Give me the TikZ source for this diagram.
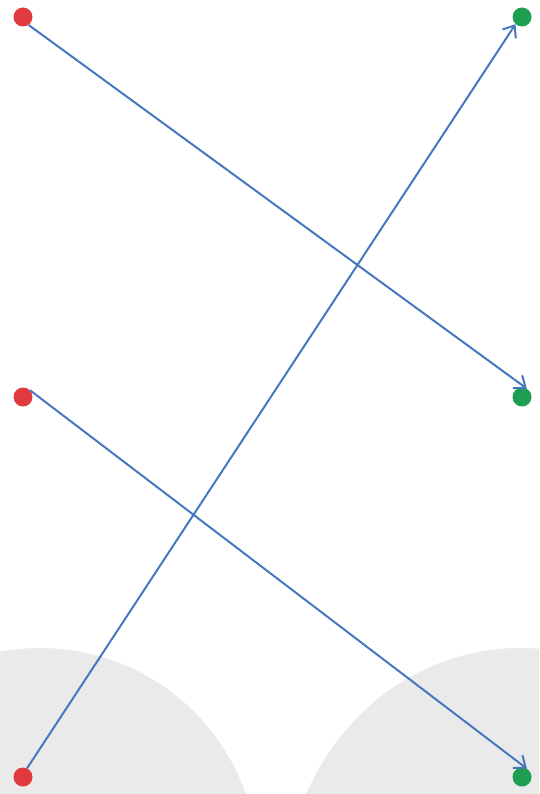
\documentclass[tikz,border=0pt]{standalone}
\usetikzlibrary{arrows.meta}
\definecolor{dotred}{HTML}{E03A3E}
\definecolor{dotgreen}{HTML}{1E9E50}
\definecolor{lineblue}{HTML}{4677BF}
\definecolor{bggrey}{HTML}{EAEAEA}
\begin{document}
\begin{tikzpicture}[x=1pt,y=-1pt,
  reddot/.style={circle,fill=dotred,minimum size=19pt,inner sep=0pt},
  greendot/.style={circle,fill=dotgreen,minimum size=19pt,inner sep=0pt},
  link/.style={draw=lineblue,line width=2pt,-{Straight Barb[length=10pt,width=16pt,line width=2pt]}}]
\useasboundingbox (0,0) rectangle (539,794);
\begin{scope}
  \clip (0,0) rectangle (539,794);
  \fill[bggrey] (40,866) circle (218);
  \fill[bggrey] (520,898) ellipse (235 and 250);
\end{scope}
\node[reddot] (r1) at (23,17) {};
\node[reddot] (r2) at (23,397) {};
\node[reddot] (r3) at (23,777) {};
\node[greendot] (g1) at (522,17) {};
\node[greendot] (g2) at (522,397) {};
\node[greendot] (g3) at (522,777) {};
\draw[link] (r1.-55) -- (g2.60);
\draw[link] (r2.45) -- (g3.60);
\draw[link] (r3.65) -- (g1.228);
\end{tikzpicture}
\end{document}
